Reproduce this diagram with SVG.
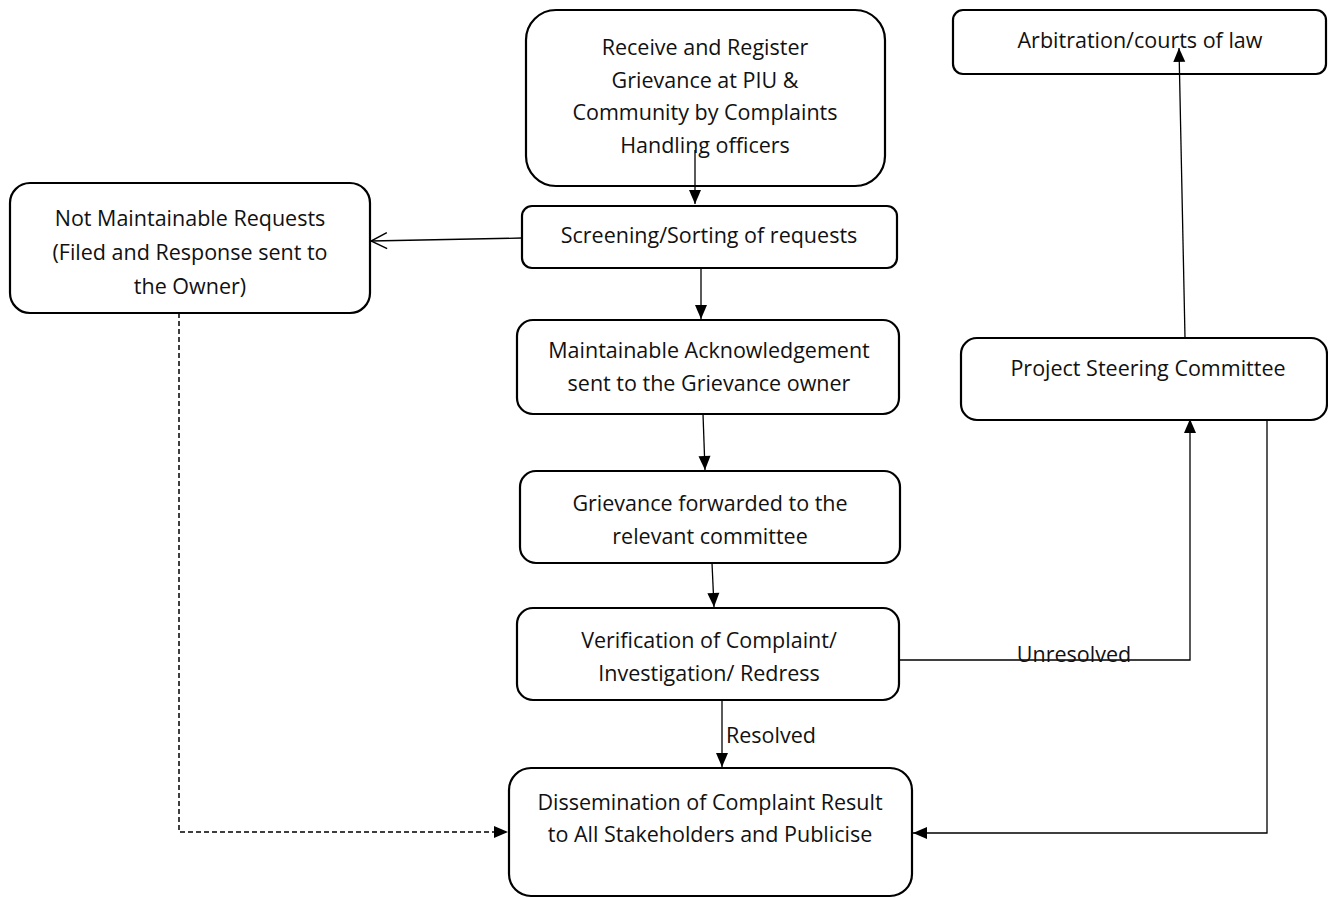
<svg xmlns="http://www.w3.org/2000/svg" width="1328" height="898" viewBox="0 0 1328 898">
<style>
.box{fill:#fff;stroke:#000;stroke-width:2.2}
.t{font-family:"Open Sans","Noto Sans","Liberation Sans",sans-serif;font-size:21.5px;fill:#111;text-anchor:middle}
.c{fill:none;stroke:#000;stroke-width:1.3}
.d{fill:none;stroke:#000;stroke-width:1.5;stroke-dasharray:5,3}
</style>
<defs>
<marker id="ah" markerUnits="userSpaceOnUse" markerWidth="16" markerHeight="16" viewBox="0 0 16 16" refX="15" refY="8" orient="auto"><path d="M1,2 L15,8 L1,14 Z" fill="#000"/></marker>
<marker id="oh" markerUnits="userSpaceOnUse" markerWidth="18" markerHeight="18" viewBox="0 0 18 18" refX="17" refY="9" orient="auto"><path d="M1,1 L17,9 L1,17" fill="none" stroke="#000" stroke-width="1.5"/></marker>
</defs>
<g id="n-receive"><rect class="box" x="526" y="10" width="359" height="176" rx="30"/>
<text class="t" x="705" y="55">Receive and Register</text>
<text class="t" x="705" y="88">Grievance at PIU &amp;</text>
<text class="t" x="705" y="120">Community by Complaints</text>
<text class="t" x="705" y="153">Handling officers</text></g>
<g id="n-screening"><rect class="box" x="522" y="206" width="375" height="62" rx="10"/>
<text class="t" x="709" y="243">Screening/Sorting of requests</text></g>
<g id="n-notmaint"><rect class="box" x="10" y="183" width="360" height="130" rx="20"/>
<text class="t" x="190" y="226">Not Maintainable Requests</text>
<text class="t" x="190" y="260">(Filed and Response sent to</text>
<text class="t" x="190" y="294">the Owner)</text></g>
<g id="n-ack"><rect class="box" x="517" y="320" width="382" height="94" rx="16"/>
<text class="t" x="709" y="358">Maintainable Acknowledgement</text>
<text class="t" x="709" y="391">sent to the Grievance owner</text></g>
<g id="n-forward"><rect class="box" x="520" y="471" width="380" height="92" rx="16"/>
<text class="t" x="710" y="511">Grievance forwarded to the</text>
<text class="t" x="710" y="544">relevant committee</text></g>
<g id="n-verify"><rect class="box" x="517" y="608" width="382" height="92" rx="16"/>
<text class="t" x="709" y="648">Verification of Complaint/</text>
<text class="t" x="709" y="681">Investigation/ Redress</text></g>
<g id="n-dissem"><rect class="box" x="509" y="768" width="403" height="128" rx="22"/>
<text class="t" x="710" y="810">Dissemination of Complaint Result</text>
<text class="t" x="710" y="842">to All Stakeholders and Publicise</text></g>
<g id="n-psc"><rect class="box" x="961" y="338" width="366" height="82" rx="16"/>
<text class="t" x="1148" y="376">Project Steering Committee</text></g>
<g id="n-arb"><rect class="box" x="953" y="10" width="373" height="64" rx="10"/>
<text class="t" x="1140" y="48">Arbitration/courts of law</text></g>
<g id="connectors">
<path class="c" d="M695,150 L695,204" marker-end="url(#ah)"/>
<path class="c" d="M522,238 L371,241" marker-end="url(#oh)"/>
<path class="c" d="M701,268 L701,319" marker-end="url(#ah)"/>
<path class="c" d="M703,414 L705,470" marker-end="url(#ah)"/>
<path class="c" d="M712,563 L714,607" marker-end="url(#ah)"/>
<path class="c" d="M722,700 L722,767" marker-end="url(#ah)"/>
<text class="t" x="726" y="743" style="text-anchor:start">Resolved</text>
<path class="c" d="M899,660 L1190,660 L1190,419" marker-end="url(#ah)"/>
<text class="t" x="1074" y="662">Unresolved</text>
<path class="c" d="M1185,338 L1179,48" marker-end="url(#ah)"/>
<path class="c" d="M1267,420 L1267,833 L913,833" marker-end="url(#ah)"/>
<path class="d" d="M179,313 L179,832 L508,832" marker-end="url(#ah)"/>
</g>
</svg>
